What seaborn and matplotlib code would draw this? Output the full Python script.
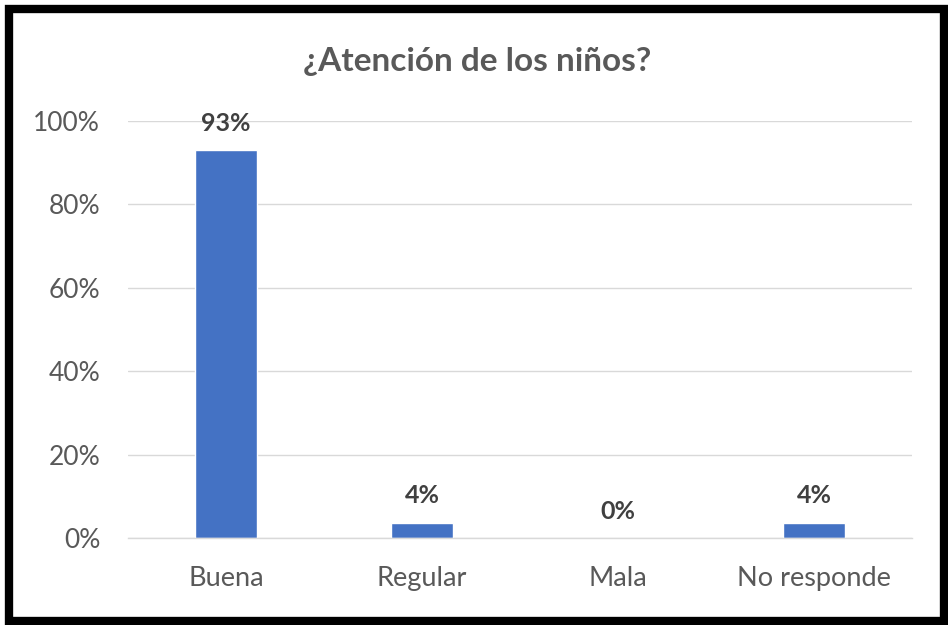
import matplotlib
matplotlib.use("Agg")
import matplotlib.pyplot as plt
import seaborn as sns
import pandas as pd
from matplotlib.patches import Rectangle
from matplotlib.ticker import FuncFormatter

categories = ["Buena", "Regular", "Mala", "No responde"]
values = [93.0, 3.7, 0.0, 3.7]
labels = ["93%", "4%", "0%", "4%"]
yticks = [0, 20, 40, 60, 80, 100]

sns.set_theme(style="white")
plt.rcParams["font.family"] = ["Lato", "DejaVu Sans"]

W, H = 948, 625
fig = plt.figure(figsize=(W / 100, H / 100), dpi=100)
ax = fig.add_axes([128 / W, 1 - 538 / H, (912 - 128) / W, (538 - 121) / H])

df = pd.DataFrame({"cat": categories, "val": values})
sns.barplot(data=df, x="cat", y="val", color="#4472C4", saturation=1,
            width=0.32, ax=ax)

ax.set_ylim(0, 100)
ax.set_yticks(yticks)
ax.yaxis.set_major_formatter(FuncFormatter(lambda v, p: f"{v:.0f}%"))
ax.grid(axis="y", color="#D9D9D9", linewidth=1)
ax.set_axisbelow(True)
for s in ["top", "right", "left"]:
    ax.spines[s].set_visible(False)
ax.spines["bottom"].set_color("#D9D9D9")
ax.spines["bottom"].set_linewidth(1)
ax.set_xlabel("")
ax.set_ylabel("")
ax.tick_params(axis="both", length=0, colors="#595959")
ax.tick_params(axis="x", pad=20, labelsize=19.5)
ax.tick_params(axis="y", pad=20, labelsize=19)

for p, lab in zip(ax.patches, labels):
    ax.annotate(lab, (p.get_x() + p.get_width() / 2, p.get_height()),
                xytext=(0, 11), textcoords="offset points",
                ha="center", va="bottom", fontsize=18, fontweight="bold",
                color="#404040")

fig.text(477 / W, 1 - 62 / H, "¿Atención de los niños?", ha="center", va="center",
         fontsize=24, fontweight="bold", color="#595959")

fig.patches.append(Rectangle((9 / W, 4.5 / H), (944 - 9) / W, (616.5 - 4.5) / H,
                             transform=fig.transFigure, fill=False,
                             edgecolor="black", linewidth=6))

fig.savefig("out.png", dpi=100)
